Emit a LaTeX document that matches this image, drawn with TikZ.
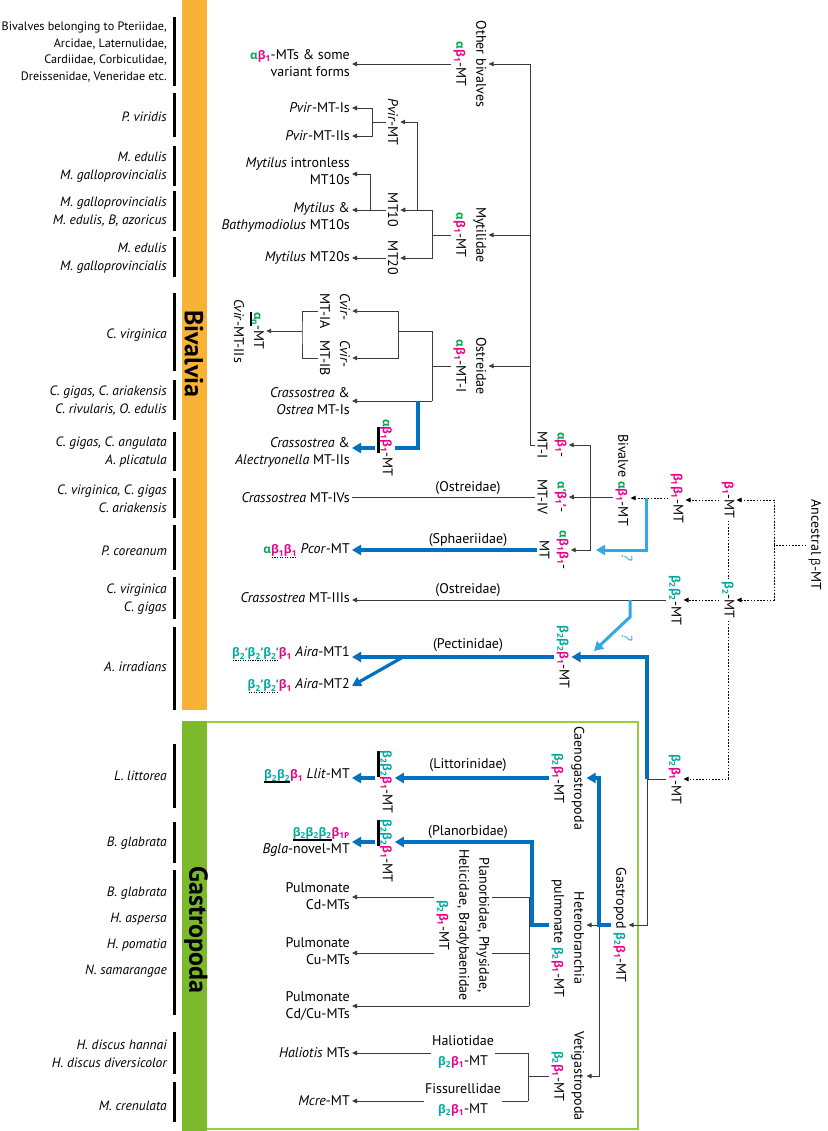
\documentclass[tikz,border=0pt]{standalone}
\usepackage{fontspec}
\setmainfont{PT Sans}
\newfontfamily\gkf{Open Sans}[Scale=0.84]
\usetikzlibrary{arrows.meta}
\definecolor{cgreen}{RGB}{0,166,81}
\definecolor{cpink}{RGB}{236,0,140}
\definecolor{cteal}{RGB}{0,169,157}
\definecolor{cblue}{RGB}{0,112,192}
\definecolor{clblue}{RGB}{48,170,228}
\definecolor{corange}{RGB}{248,178,52}
\definecolor{cgbar}{RGB}{124,186,44}
\definecolor{cgline}{RGB}{150,204,70}
\definecolor{lgray}{RGB}{60,60,60}
\newcommand\mfont{\fontsize{14}{17}\selectfont}
\newcommand\sfont{\fontsize{13.5}{18}\selectfont}
\newcommand\rfont{\fontsize{14}{20}\selectfont}
\newcommand\bigfont{\fontsize{26}{28}\selectfont\bfseries}
\newcommand\gA{{\color{cgreen}\gkf\bfseries α}}
\newcommand\gAp{{\color{cgreen}\gkf\bfseries α’}}
\newcommand\gAn{{\color{cgreen}\gkf\bfseries α\textsubscript{n}}}
\newcommand\gBa{{\color{cpink}\gkf\bfseries β\textsubscript{1}}}
\newcommand\gBap{{\color{cpink}\gkf\bfseries β\textsubscript{1}’}}
\newcommand\gBb{{\color{cteal}\gkf\bfseries β\textsubscript{2}}}
\newcommand\gBbp{{\color{cteal}\gkf\bfseries β\textsubscript{2}’}}
\newcommand\gBP{{\color{cpink}\gkf\bfseries β\textsubscript{1P}}}
\newcommand\dotul[1]{\setbox0\hbox{#1}\leavevmode\rlap{\raisebox{-4pt}{\hbox to \wd0{\xleaders\hbox to 2.4pt{\hss\rule{1.2pt}{1.2pt}\hss}\hfill}}}\box0\relax}
\newcommand\solul[1]{\setbox0\hbox{#1}\leavevmode\rlap{\raisebox{-4pt}{\rule{\wd0}{1.5pt}}}\box0\relax}
\newcommand\barul[1]{\setbox0\hbox{#1}\leavevmode\rlap{\raisebox{-5.5pt}{\rule{\wd0}{2.8pt}}}\box0\relax}
\begin{document}
\begin{tikzpicture}[x=1pt,y=-1pt,
  ln/.style={draw=lgray,line width=0.9pt},
  arr/.style={ln,-{Triangle[length=5pt,width=4.5pt]}},
  dt/.style={draw=black,line width=0.9pt,dash pattern=on 1.6pt off 1.6pt},
  darr/.style={dt,-{Triangle[length=5pt,width=4.5pt]}},
  bl/.style={draw=cblue,line width=3.2pt},
  barr/.style={bl,-{Triangle[length=9pt,width=10pt]}},
  lbarr/.style={draw=clblue,line width=3pt,-{Triangle[length=9pt,width=10pt]}},
  rot/.style={rotate=-90,align=center,inner sep=2pt,font=\rfont},
  lab/.style={anchor=east,align=right,inner sep=2pt,font=\mfont},
  sp/.style={anchor=east,align=right,inner sep=0pt,font=\sfont\itshape},
  fam/.style={inner sep=1pt,font=\mfont},
  qm/.style={rotate=-90,inner sep=1pt,font=\fontsize{15}{18}\selectfont\itshape,text=clblue}]
\useasboundingbox (0,0) rectangle (827,1131);
\fill[white] (0,0) rectangle (827,1131);
% coloured bands and box
\fill[corange] (182,0) rectangle (207,710);
\draw[cgline,line width=1.8pt] (207,722) -- (638,722) -- (638,1129) -- (207,1129);
\fill[cgbar] (182,721) rectangle (207,1131);
\node[rotate=-90,font=\bigfont,inner sep=0pt] (bivalvia) at (194,354) {Bivalvia};
\node[rotate=-90,font=\bigfont,inner sep=0pt] (gastropoda) at (196,930) {Gastropoda};
% species bars
\foreach \a/\b in {17/86,93/137,146/186,191/231,237/277,293/371,380/420,432/471,478/518,525/570,577/619,627/710,744/808,822/863,870/1015,1032/1074,1082/1122}
  \fill[black] (172.5,\a) rectangle (176,\b);
% species labels
\node[lab,inner sep=0pt,font=\fontsize{12.2}{16.7}\selectfont] (s1) at (167,52) {Bivalves belonging to Pteriidae,\\Arcidae, Laternulidae,\\Cardiidae, Corbiculidae,\\Dreissenidae, Veneridae etc.};
\node[sp] (s2) at (167,117) {P. viridis};
\node[sp] (s3) at (167,167) {M. edulis\\M. galloprovincialis};
\node[sp] (s4) at (167,212) {M. galloprovincialis\\M. edulis, B, azoricus};
\node[sp] (s5) at (167,258) {M. edulis\\M. galloprovincialis};
\node[sp] (s6) at (167,335) {C. virginica};
\node[sp] (s7) at (167,401) {C. gigas, C. ariakensis\\C. rivularis, O. edulis};
\node[sp] (s8) at (167,452) {C. gigas, C. angulata\\A. plicatula};
\node[sp] (s9) at (167,499) {C. virginica, C. gigas\\C. ariakensis};
\node[sp] (s10) at (167,551) {P. coreanum};
\node[sp] (s11) at (167,599) {C. virginica\\C. gigas};
\node[sp] (s12) at (167,667) {A. irradians};
\node[sp] (s13) at (167,776) {L. littorea};
\node[sp] (s14) at (167,843) {B. glabrata};
\node[sp] (s15) at (167,893) {B. glabrata};
\node[sp] (s16) at (167,919) {H. aspersa};
\node[sp] (s17) at (167,945) {H. pomatia};
\node[sp] (s18) at (167,971) {N. samarangae};
\node[sp] (s19) at (167,1054) {H. discus hannai\\H. discus diversicolor};
\node[sp] (s20) at (167,1106) {M. crenulata};
% middle labels
\node[lab] (obt) at (352,63) {\gA\gBa-MTs \& some\\variant forms};
\node[lab] (pv1) at (352,108) {\textit{Pvir}-MT-Is};
\node[lab] (pv2) at (352,136) {\textit{Pvir}-MT-IIs};
\node[lab] (my1) at (352,171) {\textit{Mytilus} intronless\\MT10s};
\node[lab] (my2) at (352,217) {\textit{Mytilus} \&\\\textit{Bathymodiolus} MT10s};
\node[lab] (my3) at (352,258) {\textit{Mytilus} MT20s};
\node[lab] (osi) at (352,401) {\textit{Crassostrea} \&\\\textit{Ostrea} MT-Is};
\node[lab] (osii) at (352,452) {\textit{Crassostrea} \&\\\textit{Alectryonella} MT-IIs};
\node[lab] (mtivt) at (352,498) {\textit{Crassostrea} MT-IVs};
\node[lab] (pcor) at (352,551) {\gA\dotul{\gBa\gBa} \textit{Pcor}-MT};
\node[lab] (mtiii) at (352,598) {\textit{Crassostrea} MT-IIIs};
\node[lab] (aira1) at (352,654) {\dotul{\gBbp\gBbp\gBbp}\gBa{} \textit{Aira}-MT1};
\node[lab] (aira2) at (352,686) {\dotul{\gBbp\gBbp}\gBa{} \textit{Aira}-MT2};
\node[lab] (llit) at (352,776) {\solul{\gBb\gBb}\gBa{} \textit{Llit}-MT};
\node[lab] (bglt) at (352,842) {\solul{\gBb\gBb\gBb}\gBP\\\textit{Bgla}-novel-MT};
\node[lab] (pcd) at (352,896) {Pulmonate\\Cd-MTs};
\node[lab] (pcu) at (352,951) {Pulmonate\\Cu-MTs};
\node[lab] (pcdcu) at (352,1006) {Pulmonate\\Cd/Cu-MTs};
\node[lab] (halt) at (352,1053) {\textit{Haliotis} MTs};
\node[lab] (mcre) at (352,1101) {\textit{Mcre}-MT};
% rotated tree nodes
\node[rot] (ob) at (470,64) {Other bivalves\\\gA\gBa-MT};
\node[rot] (myt) at (470,235) {Mytilidae\\\gA\gBa-MT};
\node[rot] (ost) at (470,366) {Ostreidae\\\gA\gBa-MT-I};
\node[rot] (pvir) at (393,122) {\textit{Pvir}-MT};
\node[rot] (mt10) at (393,210) {MT10};
\node[rot] (mt20) at (393,258) {MT20};
\node[rot,align=left] (cvia) at (335,311) {\textit{Cvir}-\\MT-IA};
\node[rot,align=left] (cvib) at (335,358) {\textit{Cvir}-\\MT-IB};
\node[rot] (cvii) at (249,331) {\solul{\gAn}-MT\\\textit{Cvir}-MT-IIs};
\node[rot] (ab11) at (385,448) {\gA\barul{\gBa\gBa}-MT};
\node[rot] (mti) at (552,445) {\gA\gBa-\\MT-I};
\node[rot] (mtiv) at (552,497) {\gAp\gBap-\\MT-IV};
\node[rot] (mtpc) at (554,550) {\gA\gBa\gBa-\\MT};
\node[rot] (biv) at (622,480) {Bivalve \gA\gBa-MT};
\node[rot] (b1b1) at (677,498) {\gBa\gBa-MT};
\node[rot] (b1) at (728,500) {\gBa-MT};
\node[rot] (anc) at (815,545) {Ancestral {\gkf β}-MT};
\node[rot] (b2) at (728,600) {\gBb-MT};
\node[rot] (b2b2) at (675,600) {\gBb\gBb-MT};
\node[rot] (b2b2b1) at (563,657) {\gBb\gBb\gBa-MT};
\node[rot] (b2b1) at (675,779) {\gBb\gBa-MT};
\node[rot] (gas) at (620,925) {Gastropod \gBb\gBa-MT};
\node[rot] (cae) at (568,778) {Caenogastropoda\\\gBb\gBa-MT};
\node[rot] (het) at (568,938) {Heterobranchia\\pulmonate \gBb\gBa-MT};
\node[rot] (vet) at (568,1076) {Vetigastropoda\\\gBb\gBa-MT};
\node[rot] (lit) at (385,782) {\barul{\gBb\gBb}\gBa-MT};
\node[rot] (bgl) at (385,851) {\barul{\gBb\gBb}\gBa-MT};
\node[rot] (pla) at (463,925) {Planorbidae, Physidae,\\Helicidae, Bradybaenidae\\\gBb\gBa-MT};
\node[qm] (q1) at (627,558) {?};
\node[qm] (q2) at (627,638) {?};
% family labels
\node[fam] (f1) at (468,488) {(Ostreidae)};
\node[fam] (f2) at (468,540) {(Sphaeriidae)};
\node[fam] (f3) at (468,590) {(Ostreidae)};
\node[fam] (f4) at (468,645) {(Pectinidae)};
\node[fam] (f5) at (468,765) {(Littorinidae)};
\node[fam] (f6) at (468,832) {(Planorbidae)};
\node[fam,align=center,font=\rfont] (hal) at (463,1052) {Haliotidae\\\gBb\gBa-MT};
\node[fam,align=center,font=\rfont] (fis) at (463,1100) {Fissurellidae\\\gBb\gBa-MT};
\coordinate (qc1) at (596,550);
\coordinate (qc2) at (594,651);
% ---- thin grey connectors
\draw[arr] (mti.south) -- (530,445) |- (ob.north);
\draw[arr] (530,235) -- (myt.north);
\draw[arr] (530,366) -- (ost.north);
\draw[arr] (ob.south) -- (obt.east |- ob.south);
\draw[ln] (myt.south) -- (432,235);
\draw[arr] (432,235) |- (mt10.north);
\draw[arr] (432,235) |- (mt20.north);
\draw[arr] (417,210) |- (pvir.north);
\draw[ln] (pvir.south) -- (372,122);
\draw[arr] (372,122) |- (pv1.east);
\draw[arr] (372,122) |- (pv2.east);
\draw[ln] (mt10.south) -- (370,210);
\draw[arr] (370,210) |- (my1.east |- 370,174);
\draw[arr] (370,210) -- (my2.east |- mt10.south);
\draw[arr] (mt20.south) -- (my3.east |- mt20.south);
\draw[ln] (ost.south) -- (432,366);
\draw[ln] (398,331) -- (432,331) -- (432,401);
\draw[arr] (432,401) -- (osi.east |- 432,401);
\draw[arr] (398,331) |- (cvia.north);
\draw[arr] (398,331) |- (cvib.north);
\draw[ln] (cvia.south) -| (302,331) |- (cvib.south);
\draw[arr] (302,331) -- (cvii.north);
\draw[ln] (biv.south |- mtiv.north) -- (590,497);
\draw[arr] (590,497) -- (mtiv.north);
\draw[arr] (590,497) |- (mti.north);
\draw[arr] (590,497) |- (mtpc.north);
\draw[ln] (mtiv.south) -- (mtivt.east |- mtiv.south);
\draw[arr] (b2b2.south) -- (mtiii.east |- b2b2.south);
\draw[arr] (b2b1.south) -| (647,925) -- (gas.north);
\draw[arr] (599,925) -- (het.north |- 599,925);
\draw[arr] (599,925) |- (vet.north);
\draw[ln] (529,897) -- (529,1006);
\draw[ln] (529,897) -- (pla.north |- 529,897);
\draw[arr] (pla.south |- 529,897) -- (pcd.east |- 529,897);
\draw[ln] (529,953) -- (pla.north |- 529,953);
\draw[arr] (pla.south |- 529,953) -- (pcu.east |- 529,953);
\draw[arr] (529,1006) -- (pcdcu.east |- 529,1006);
\draw[ln] (vet.south) -- (528,1076);
\draw[ln] (528,1053) -- (528,1101);
\draw[ln] (528,1053) -- (hal.east |- 528,1053);
\draw[arr] (hal.west |- 528,1053) -- (halt.east |- 528,1053);
\draw[ln] (528,1101) -- (fis.east |- 528,1101);
\draw[arr] (fis.west |- 528,1101) -- (mcre.east |- 528,1101);
% ---- dotted connectors
\draw[darr] (b1b1.south) -- (biv.north |- b1b1.south);
\draw[darr] (b1.south) -- (b1b1.north |- b1.south);
\draw[dt] (anc.south) -- (774,545);
\draw[darr] (774,545) |- (b1.north);
\draw[darr] (774,545) |- (b2.north);
\draw[dt] (b1.east) -- (b2.west);
\draw[darr] (b2.east) |- (b2b1.north);
\draw[darr] (b2.south) -- (b2b2.north |- b2.south);
% ---- light blue
\draw[lbarr] (646,498) |- (qc1);
\draw[lbarr] (630,600) -- (630,617) -- (qc2);
% ---- thick blue
\draw[bl] (418,401) |- (ab11.north);
\draw[barr] (ab11.south) -- (osii.east |- ab11.south);
\draw[barr] (mtpc.south) -- (pcor.east |- mtpc.south);
\draw[barr] (647,779) |- (b2b2b1.north);
\draw[barr] (b2b2b1.south) -- (aira1.east |- b2b2b1.south);
\draw[barr] (403,657) -- (aira2.east);
\draw[barr] (gas.south) -- (599,925) |- (cae.north);
\draw[barr] (cae.south) -- (lit.north |- cae.south);
\draw[barr] (lit.south |- cae.south) -- (llit.east |- cae.south);
\draw[barr] (het.south |- gas.south) -- (532,925) |- (bgl.north |- 532,842);
\draw[barr] (bgl.south |- 532,842) -- (bglt.east |- 532,842);
\end{tikzpicture}
\end{document}
